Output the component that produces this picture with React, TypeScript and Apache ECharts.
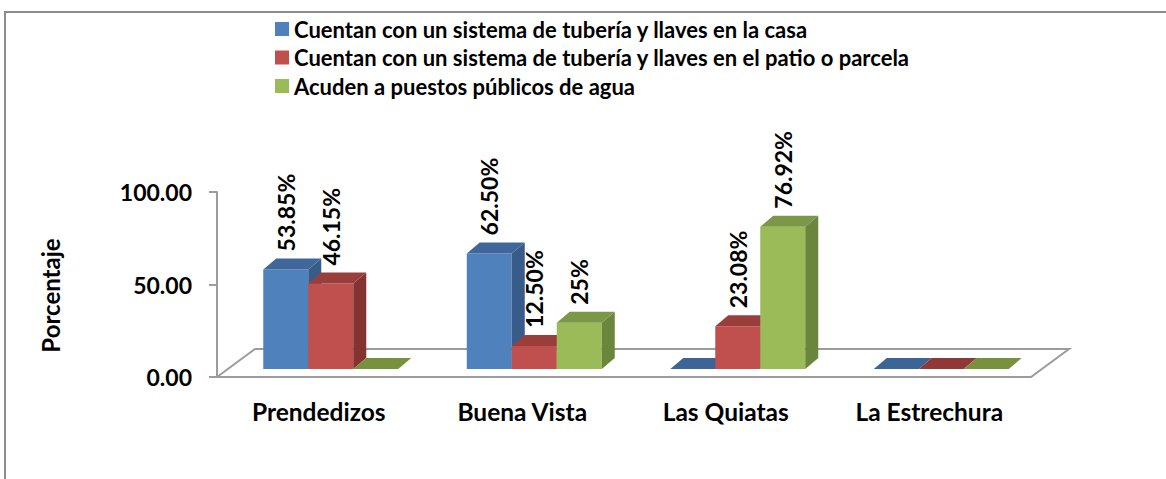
import React, { useEffect, useRef } from "react";
import * as echarts from "echarts";

const categories = ["Prendedizos", "Buena Vista", "Las Quiatas", "La Estrechura"];
const seriesNames = [
  "Cuentan con un sistema de tubería y llaves en la casa",
  "Cuentan con un sistema de tubería y llaves en el patio o parcela",
  "Acuden a puestos públicos de agua",
];
const casaValues = [53.85, 62.5, 0, 0];
const patioValues = [46.15, 12.5, 23.08, 0];
const publicosValues = [0, 25, 76.92, 0];
const casaLabels = ["53.85%", "62.50%", "", ""];
const patioLabels = ["46.15%", "12.50%", "23.08%", ""];
const publicosLabels = ["", "25%", "76.92%", ""];
const yMin = 0;
const yMax = 100;
const yInterval = 50;

const FONT = "Lato, 'DejaVu Sans', sans-serif";

const palettes = [
  { front: "#4F81BD", top: "#3F679A", side: "#385C89", flat: "#3C6496" },
  { front: "#C0504D", top: "#9A3E3C", side: "#853331", flat: "#8F3835" },
  { front: "#9BBB59", top: "#7B9747", side: "#6B853D", flat: "#77913F" },
];

const DX = 13;
const DY = -11;
const LIFT = 8;

function makeSeries(idx: number, values: number[], labels: string[]) {
  const pal = palettes[idx];
  return {
    type: "custom",
    name: seriesNames[idx],
    itemStyle: { color: pal.front },
    encode: { x: 0, y: 1 },
    data: values.map((v, i) => [i, v]),
    renderItem: (params: any, api: any) => {
      const cat = api.value(0);
      const val = api.value(1);
      const p0 = api.coord([cat, 0]);
      const p1 = api.coord([cat, val]);
      const band = api.size([1, 0])[0];
      const w = band * 0.2211;
      const shift = band * 0.059;
      const left = p0[0] + shift + (idx - 1) * w - w / 2;
      const baseY = p0[1] - LIFT;
      const topY = p1[1] - LIFT;
      const children: any[] = [];
      if (val > 0) {
        children.push({
          type: "rect",
          shape: { x: left, y: topY, width: w, height: baseY - topY },
          style: { fill: pal.front },
        });
        children.push({
          type: "polygon",
          shape: {
            points: [
              [left + w, topY],
              [left + w + DX, topY + DY],
              [left + w + DX, baseY + DY],
              [left + w, baseY],
            ],
          },
          style: { fill: pal.side },
        });
        children.push({
          type: "polygon",
          shape: {
            points: [
              [left, topY],
              [left + DX, topY + DY],
              [left + w + DX, topY + DY],
              [left + w, topY],
            ],
          },
          style: { fill: pal.top },
        });
      } else {
        children.push({
          type: "polygon",
          shape: {
            points: [
              [left, baseY],
              [left + DX, baseY + DY],
              [left + w + DX, baseY + DY],
              [left + w, baseY],
            ],
          },
          style: { fill: pal.flat },
        });
      }
      const lbl = labels[params.dataIndex];
      if (lbl) {
        children.push({
          type: "text",
          x: left + w / 2,
          y: topY + DY - 7,
          rotation: Math.PI / 2,
          style: {
            text: lbl,
            fill: "#000",
            fontSize: 23,
            fontWeight: "bold",
            fontFamily: FONT,
            align: "left",
            verticalAlign: "middle",
          },
        });
      }
      return { type: "group", children };
    },
  };
}

export default function App() {
  const ref = useRef<HTMLDivElement>(null);
  useEffect(() => {
    if (!ref.current) return;
    const chart = echarts.init(ref.current, undefined, { renderer: "svg" });
    const gLeft = 217;
    const gRight = 1031;
    const gBottom = 377;
    const fdx = 38;
    const fdy = -28;
    chart.setOption({
      animation: false,
      backgroundColor: "#ffffff",
      textStyle: { fontFamily: FONT },
      graphic: [
        {
          type: "rect",
          z: -10,
          shape: { x: 5, y: 12, width: 1300, height: 600 },
          style: { fill: "#ffffff", stroke: "#8c8c8c", lineWidth: 2 },
        },
        {
          type: "polygon",
          z: 0,
          shape: {
            points: [
              [gLeft, gBottom],
              [gLeft + fdx, gBottom + fdy],
              [gRight + fdx, gBottom + fdy],
              [gRight, gBottom],
            ],
          },
          style: { fill: "#ffffff", stroke: "#9c9c9c", lineWidth: 2 },
        },
      ],
      legend: {
        orient: "vertical",
        left: 270,
        top: 13,
        itemWidth: 14,
        itemHeight: 14,
        itemGap: 6.5,
        icon: "rect",
        data: seriesNames,
        textStyle: {
          fontSize: 22,
          fontWeight: "bold",
          color: "#000",
          fontFamily: FONT,
          lineHeight: 22,
        },
      },
      grid: { left: gLeft, right: 1166 - gRight, top: 192, bottom: 479 - gBottom },
      xAxis: {
        type: "category",
        data: categories,
        axisLine: { show: false },
        axisTick: { show: false },
        axisLabel: {
          margin: 22,
          fontSize: 24.5,
          fontWeight: "bold",
          color: "#000",
          fontFamily: FONT,
        },
      },
      yAxis: {
        type: "value",
        min: yMin,
        max: yMax,
        interval: yInterval,
        name: "Porcentaje",
        nameLocation: "middle",
        nameRotate: 90,
        nameGap: 155,
        nameTextStyle: {
          fontSize: 24,
          fontWeight: "bold",
          color: "#000",
          fontFamily: FONT,
          padding: [0, 22, 0, 0],
        },
        axisLine: { show: true, lineStyle: { color: "#9c9c9c", width: 2 } },
        axisTick: { show: true, length: 8, lineStyle: { color: "#9c9c9c", width: 2 } },
        splitLine: { show: false },
        axisLabel: {
          margin: 25,
          fontSize: 23,
          fontWeight: "bold",
          color: "#000",
          fontFamily: FONT,
          formatter: (v: number) => v.toFixed(2),
        },
      },
      series: [
        makeSeries(0, casaValues, casaLabels),
        makeSeries(1, patioValues, patioLabels),
        makeSeries(2, publicosValues, publicosLabels),
      ],
    });
    return () => chart.dispose();
  }, []);
  return (
    <div
      ref={ref}
      style={{ position: "absolute", left: 0, top: 0, width: 1166, height: 479 }}
    />
  );
}
